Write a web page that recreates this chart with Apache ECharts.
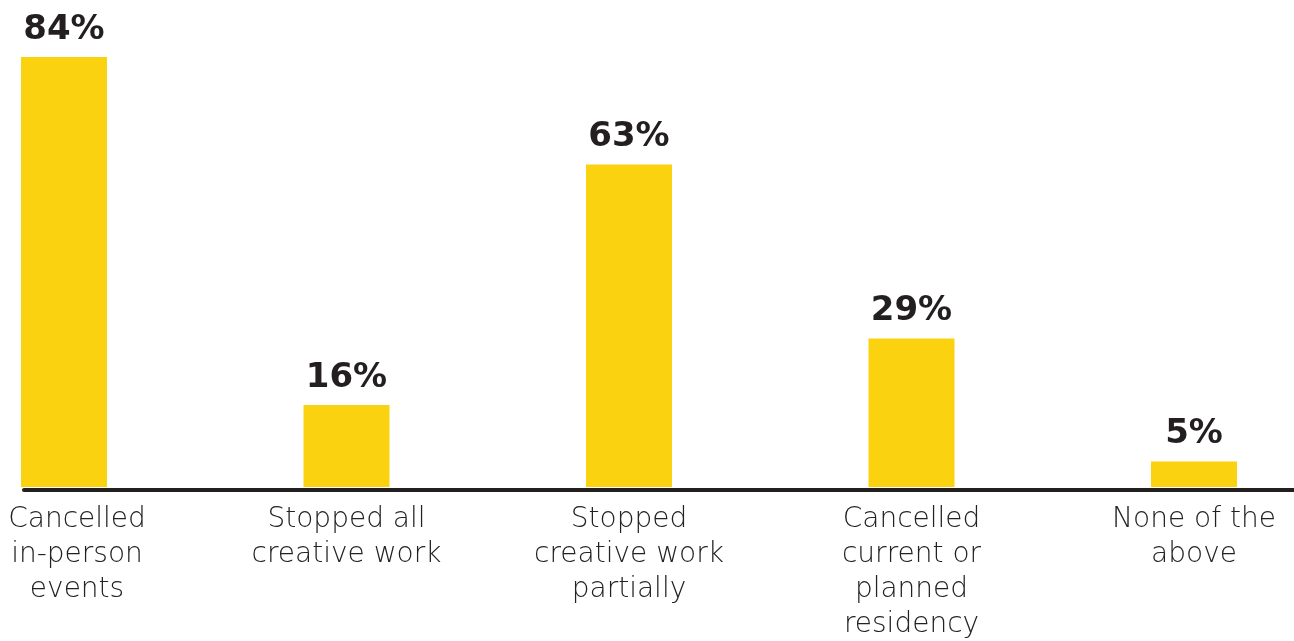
<!DOCTYPE html>
<html>
<head>
<meta charset="utf-8">
<script src="https://cdn.jsdelivr.net/npm/echarts@6/dist/echarts.min.js"></script>
<style>
html,body{margin:0;padding:0;background:#fff;}
#chart{width:1294px;height:641px;}
</style>
</head>
<body>
<div id="chart"></div>
<script>
const categories = [
  "Cancelled\nin-person\nevents",
  "Stopped all\ncreative work",
  "Stopped\ncreative work\npartially",
  "Cancelled\ncurrent or\nplanned\nresidency",
  "None of the\nabove"
];
const values = [84, 16, 63, 29, 5];

const chart = echarts.init(document.getElementById('chart'));
chart.setOption({
  backgroundColor: '#ffffff',
  animation: false,
  grid: [
    { left: 64, right: 100, top: 57, bottom: 154, outerBoundsMode: 'none', containLabel: false },
    { left: 24, right: 0, top: 57, bottom: 151, outerBoundsMode: 'none', containLabel: false }
  ],
  xAxis: [
    {
      type: 'category', gridIndex: 0, boundaryGap: false,
      data: categories.map((c, i) => i === 0 ? { value: c, textStyle: { padding: [0, 0, 0, 26] } } : c),
      axisLine: { show: false }, axisTick: { show: false },
      axisLabel: {
        interval: 0, margin: 15,
        fontFamily: 'DejaVu Sans', fontWeight: 200, fontSize: 28, lineHeight: 35,
        color: '#222222', align: 'center'
      }
    },
    {
      type: 'value', gridIndex: 1, min: 0, max: 1,
      axisLine: { show: true, lineStyle: { color: '#231f20', width: 4 } },
      axisTick: { show: false }, axisLabel: { show: false }, splitLine: { show: false }
    }
  ],
  yAxis: [
    { type: 'value', gridIndex: 0, min: 0, max: 84, show: false },
    { type: 'value', gridIndex: 1, min: 0, max: 1, show: false }
  ],
  series: [{
    type: 'bar', xAxisIndex: 0, yAxisIndex: 0,
    data: values, barWidth: 86, clip: false,
    itemStyle: { color: '#fbd20f' },
    label: {
      show: true, position: 'top', distance: 10,
      formatter: p => p.value + '%',
      fontFamily: 'DejaVu Sans', fontWeight: 'bold', fontSize: 34,
      color: '#231f20'
    }
  }]
});
</script>
</body>
</html>
